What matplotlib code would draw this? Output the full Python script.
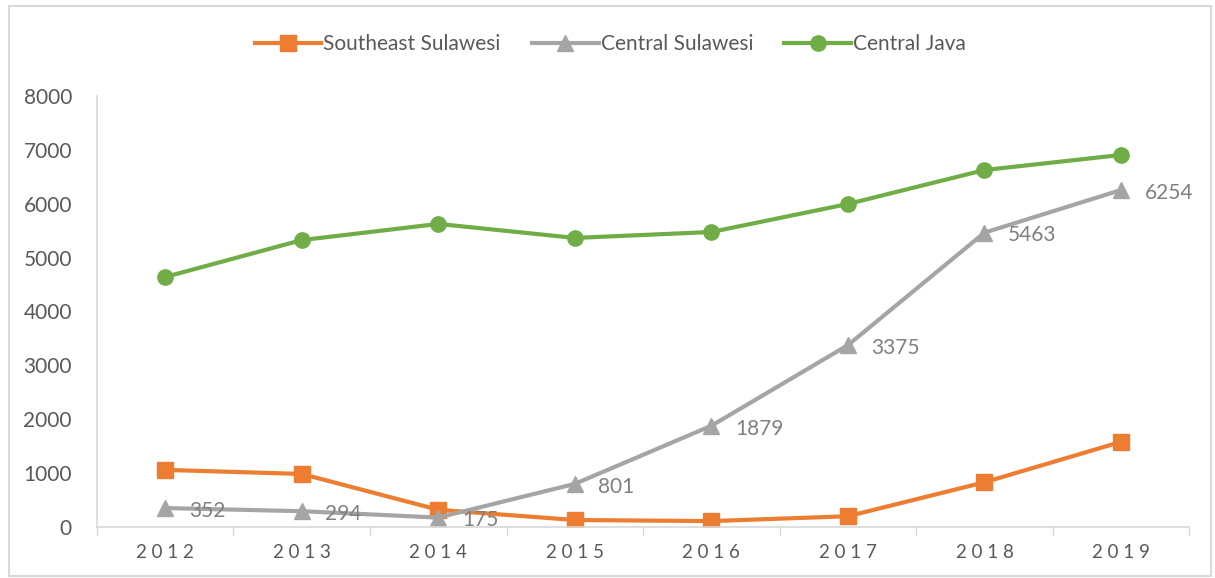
import matplotlib.pyplot as plt
from matplotlib.patches import Rectangle
import numpy as np

plt.rcParams['font.family'] = ['Lato', 'DejaVu Sans']

years = ['2012', '2013', '2014', '2015', '2016', '2017', '2018', '2019']
southeast_sulawesi = [1060, 985, 320, 130, 110, 200, 830, 1580]
central_sulawesi = [352, 294, 175, 801, 1879, 3375, 5463, 6254]
central_java = [4640, 5325, 5625, 5365, 5475, 5995, 6625, 6905]

text_col = '#595959'
axis_col = '#d9d9d9'

fig = plt.figure(figsize=(12.15, 5.78), dpi=100)
ax = fig.add_axes([0.0798, 0.0882, 0.899, 0.7458])

x = np.arange(len(years))
ax.plot(x, southeast_sulawesi, color='#ED7D31', lw=3, marker='s', markersize=11,
        label='Southeast Sulawesi', solid_joinstyle='round')
ax.plot(x, central_sulawesi, color='#A5A5A5', lw=3, marker='^', markersize=12,
        label='Central Sulawesi', solid_joinstyle='round')
ax.plot(x, central_java, color='#70AD47', lw=3, marker='o', markersize=11,
        label='Central Java', solid_joinstyle='round')

# value labels on the Central Sulawesi series
for xi, v in zip(x, central_sulawesi):
    ax.annotate(str(v), (xi, v), xytext=(17, -2), textcoords='offset points',
                ha='left', va='center', fontsize=15, color='#808080')

ax.set_xlim(-0.5, len(years) - 0.5)
ax.set_ylim(0, 8000)
ax.set_yticks(np.arange(0, 8001, 1000))
ax.set_xticks(x)
ax.set_xticklabels([' '.join(y) for y in years])
ax.set_xticks(np.arange(-0.5, len(years)), minor=True)

ax.tick_params(axis='y', length=0, pad=18, labelsize=15, labelcolor=text_col)
ax.tick_params(axis='x', which='major', length=0, pad=12, labelsize=13.5, labelcolor=text_col)
ax.tick_params(axis='x', which='minor', length=6, width=1, color=axis_col)

for s in ['top', 'right']:
    ax.spines[s].set_visible(False)
for s in ['left', 'bottom']:
    ax.spines[s].set_color(axis_col)
    ax.spines[s].set_linewidth(1.2)

ax.legend(loc='center', bbox_to_anchor=(0.47, 1.12), ncol=3, frameon=False,
          fontsize=15, labelcolor=text_col, handlelength=3.2, handletextpad=0.1,
          columnspacing=1.5)

# chart border
fig.patches.append(Rectangle((0.007, 0.004), 0.99, 0.986, transform=fig.transFigure,
                             fill=False, edgecolor=axis_col, lw=1.5))

fig.savefig('out.png', dpi=100)
